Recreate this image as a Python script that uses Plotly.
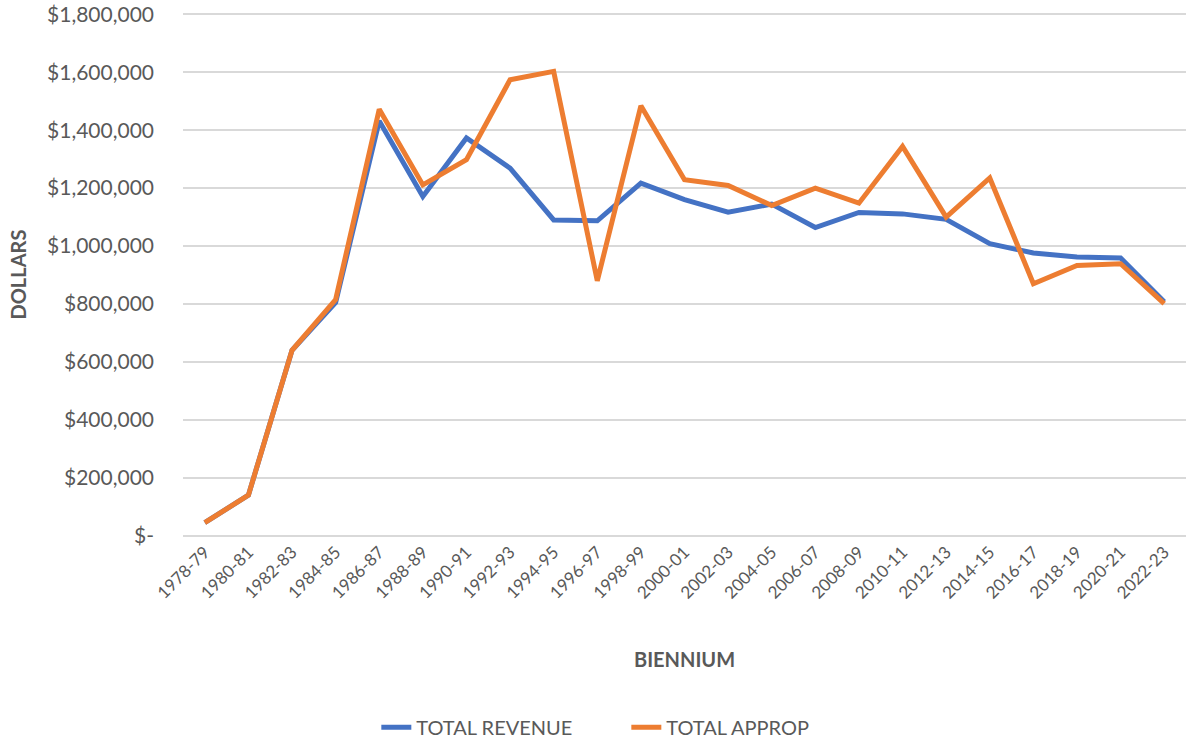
import plotly.graph_objects as go

biennium = ["1978-79", "1980-81", "1982-83", "1984-85", "1986-87", "1988-89", "1990-91",
            "1992-93", "1994-95", "1996-97", "1998-99", "2000-01", "2002-03", "2004-05",
            "2006-07", "2008-09", "2010-11", "2012-13", "2014-15", "2016-17", "2018-19",
            "2020-21", "2022-23"]

total_revenue = [45000, 140000, 640000, 805000, 1432000, 1171000, 1373000,
                 1269000, 1090000, 1087000, 1217000, 1160000, 1117000, 1145000,
                 1064000, 1116000, 1111000, 1092000, 1008000, 976000, 962000,
                 959000, 808000]

total_approp = [45000, 140000, 640000, 815000, 1472000, 1211000, 1298000,
                1574000, 1603000, 880000, 1484000, 1229000, 1209000, 1140000,
                1200000, 1148000, 1344000, 1100000, 1235000, 870000, 933000,
                939000, 801000]

y_tickvals = [0, 200000, 400000, 600000, 800000, 1000000, 1200000, 1400000, 1600000, 1800000]
y_ticktext = ["$-", "$200,000", "$400,000", "$600,000", "$800,000", "$1,000,000",
              "$1,200,000", "$1,400,000", "$1,600,000", "$1,800,000"]

FONT = "Lato, 'Open Sans', sans-serif"
GRAY = "#595959"

fig = go.Figure()
fig.add_trace(go.Scatter(x=biennium, y=total_revenue, mode="lines", name="TOTAL REVENUE",
                         line=dict(color="#4472C4", width=5)))
fig.add_trace(go.Scatter(x=biennium, y=total_approp, mode="lines", name="TOTAL APPROP",
                         line=dict(color="#ED7D31", width=5)))

fig.update_layout(
    width=1186, height=740,
    margin=dict(l=183, r=0, t=12, b=202, autoexpand=False),
    paper_bgcolor="white", plot_bgcolor="white",
    font=dict(family=FONT, color=GRAY, size=17),
    showlegend=True,
    legend=dict(orientation="h", x=0.442, xanchor="center",
                y=-0.36, yanchor="middle", font=dict(size=20, color=GRAY),
                entrywidth=205, entrywidthmode="pixels"),
    xaxis=dict(type="category", range=[-0.5, len(biennium) - 0.5], tickangle=-45,
               tickfont=dict(size=17, color=GRAY),
               showgrid=False, showline=False, zeroline=False, ticks="", automargin=False),
    yaxis=dict(range=[-8000, 1808000], tickvals=y_tickvals, ticktext=y_ticktext,
               tickfont=dict(size=21, color=GRAY), showgrid=True, gridcolor="#D9D9D9",
               gridwidth=1.5, zeroline=False, showline=False, ticks="",
               ticklabelstandoff=28, automargin=False),
    annotations=[
        dict(text="<b>BIENNIUM</b>", xref="paper", yref="paper", x=0.5, y=-0.23,
             xanchor="center", yanchor="middle", showarrow=False,
             font=dict(size=20, color=GRAY, family=FONT)),
        dict(text="<b>DOLLARS</b>", xref="paper", yref="paper", x=-0.165, y=0.5,
             xanchor="center", yanchor="middle", showarrow=False, textangle=-90,
             font=dict(size=20, color=GRAY, family=FONT)),
    ],
)

fig.write_html("out.html", config={"displayModeBar": False},
               post_script="document.body.style.margin='0';")
